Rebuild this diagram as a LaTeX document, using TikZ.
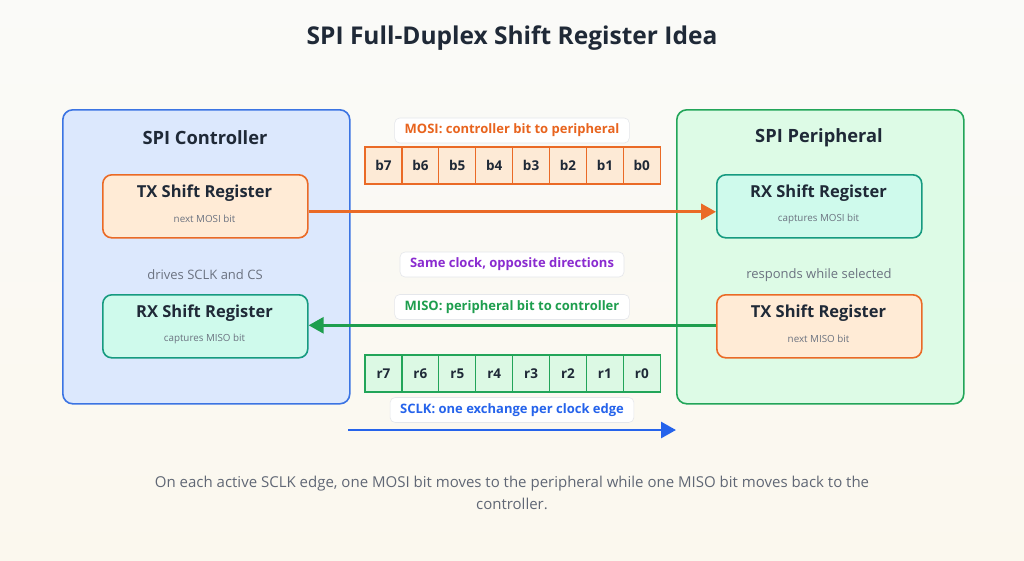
\documentclass[tikz,border=0pt]{standalone}
\usepackage{fontspec}
\setmainfont{Open Sans}
\usetikzlibrary{arrows.meta,calc}
\definecolor{bgtop}{HTML}{FAFAF8}
\definecolor{bgbot}{HTML}{FBF8EE}
\definecolor{ink}{HTML}{1F2937}
\definecolor{muted}{HTML}{6B7280}
\definecolor{ctrlfill}{HTML}{DCE8FD}
\definecolor{ctrlline}{HTML}{3B74E3}
\definecolor{perfill}{HTML}{DDFBE6}
\definecolor{perline}{HTML}{22A559}
\definecolor{txfill}{HTML}{FFEBD6}
\definecolor{txline}{HTML}{EA6A26}
\definecolor{rxfill}{HTML}{CFFAEC}
\definecolor{rxline}{HTML}{169A80}
\definecolor{bcell}{HTML}{FDEAD6}
\definecolor{rcell}{HTML}{DCF9E4}
\definecolor{purp}{HTML}{8A2BD0}
\definecolor{mosi}{HTML}{E8641E}
\definecolor{miso}{HTML}{1E9E4E}
\definecolor{sclk}{HTML}{2563EB}
\definecolor{tagline}{HTML}{E5E7EB}
\begin{document}
\begin{tikzpicture}[x=1pt,y=-1pt,
  panel/.style={draw, rounded corners=10pt, line width=1.6pt, minimum width=287pt, minimum height=294pt, anchor=north west},
  regbox/.style={draw, rounded corners=9pt, line width=1.6pt, minimum width=205pt, minimum height=63pt, anchor=north west},
  txreg/.style={regbox, fill=txfill, draw=txline},
  rxreg/.style={regbox, fill=rxfill, draw=rxline},
  ptitle/.style={font=\fontsize{18.3}{21}\selectfont\bfseries, text=ink},
  rtitle/.style={font=\fontsize{16.5}{19}\selectfont\bfseries, text=ink},
  rsub/.style={font=\fontsize{9.8}{11}\selectfont, text=muted},
  note/.style={font=\fontsize{13}{15}\selectfont, text=muted},
  tag/.style={draw=tagline, fill=white, rounded corners=5pt, line width=0.6pt, minimum height=25pt, font=\fontsize{13}{15}\selectfont\bfseries, inner xsep=10pt},
  bitcell/.style={draw=txline, fill=bcell, line width=1.2pt, minimum width=36.9pt, minimum height=37pt, font=\fontsize{13.5}{15}\selectfont\bfseries, text=ink, inner sep=0pt},
  rcellst/.style={draw=perline, fill=rcell, line width=1.2pt, minimum width=36.9pt, minimum height=37pt, font=\fontsize{13.5}{15}\selectfont\bfseries, text=ink, inner sep=0pt},
  flow/.style={line width=2.8pt, -{Triangle[length=15pt,width=16pt]}}
]
\useasboundingbox (0,0) rectangle (1024,560);
\shade[top color=bgtop, bottom color=bgbot] (0,0) rectangle (1024,560);

\node[font=\fontsize{24.5}{28}\selectfont\bfseries, text=ink] (title) at (512,38) {SPI Full-Duplex Shift Register Idea};

% controller
\node[panel, fill=ctrlfill, draw=ctrlline] (ctrl) at (62,109) {};
\node[ptitle] (ctrlt) at (205,137.5) {SPI Controller};
\node[txreg] (ctx) at (102,174) {};
\node[rtitle] (ctxt) at (204.5,193) {TX Shift Register};
\node[rsub] (ctxs) at (204.5,218.5) {next MOSI bit};
\node[note] (cnote) at (205,275) {drives SCLK and CS};
\node[rxreg] (crx) at (102,294) {};
\node[rtitle] (crxt) at (204.5,313) {RX Shift Register};
\node[rsub] (crxs) at (204.5,338.5) {captures MISO bit};

% peripheral
\node[panel, fill=perfill, draw=perline] (per) at (676,109) {};
\node[ptitle] (pert) at (819,137.5) {SPI Peripheral};
\node[rxreg] (prx) at (716,174) {};
\node[rtitle] (prxt) at (818.5,193) {RX Shift Register};
\node[rsub] (prxs) at (818.5,218.5) {captures MOSI bit};
\node[note] (pnote) at (819,275) {responds while selected};
\node[txreg] (ptx) at (716,294) {};
\node[rtitle] (ptxt) at (818.5,313) {TX Shift Register};
\node[rsub] (ptxs) at (818.5,338.5) {next MISO bit};

% MOSI cells
\node[tag, text=mosi] (mosilbl) at (512,130.5) {MOSI: controller bit to peripheral};
\foreach \i [count=\k from 0] in {7,6,5,4,3,2,1,0} {
  \node[bitcell] (b\i) at (383.5+36.9*\k,165.5) {b\i};
}
% MISO cells
\foreach \i [count=\k from 0] in {7,6,5,4,3,2,1,0} {
  \node[rcellst] (r\i) at (383.5+36.9*\k,373.5) {r\i};
}
\node[tag, text=purp] (same) at (512,264.5) {Same clock, opposite directions};
\node[tag, text=miso] (misolbl) at (512,307) {MISO: peripheral bit to controller};
\node[tag, text=sclk] (sclklbl) at (512,410) {SCLK: one exchange per clock edge};

% arrows
\draw[flow, draw=txline] ($(ctx.east)+(0,5.5)$) -- ($(prx.west)+(0,5.5)$);
\draw[flow, draw=miso] ($(ptx.west)+(0,-1)$) -- ($(crx.east)+(0,-1)$);
\coordinate (clkA) at (348,430);
\coordinate (clkB) at (676,430);
\draw[flow, draw=sclk] (clkA) -- (clkB);

\node[font=\fontsize{15}{22}\selectfont, text=muted!85!ink, align=center] (foot) at (512,493)
 {On each active SCLK edge, one MOSI bit moves to the peripheral while one MISO bit moves back to the\\controller.};
\end{tikzpicture}
\end{document}
